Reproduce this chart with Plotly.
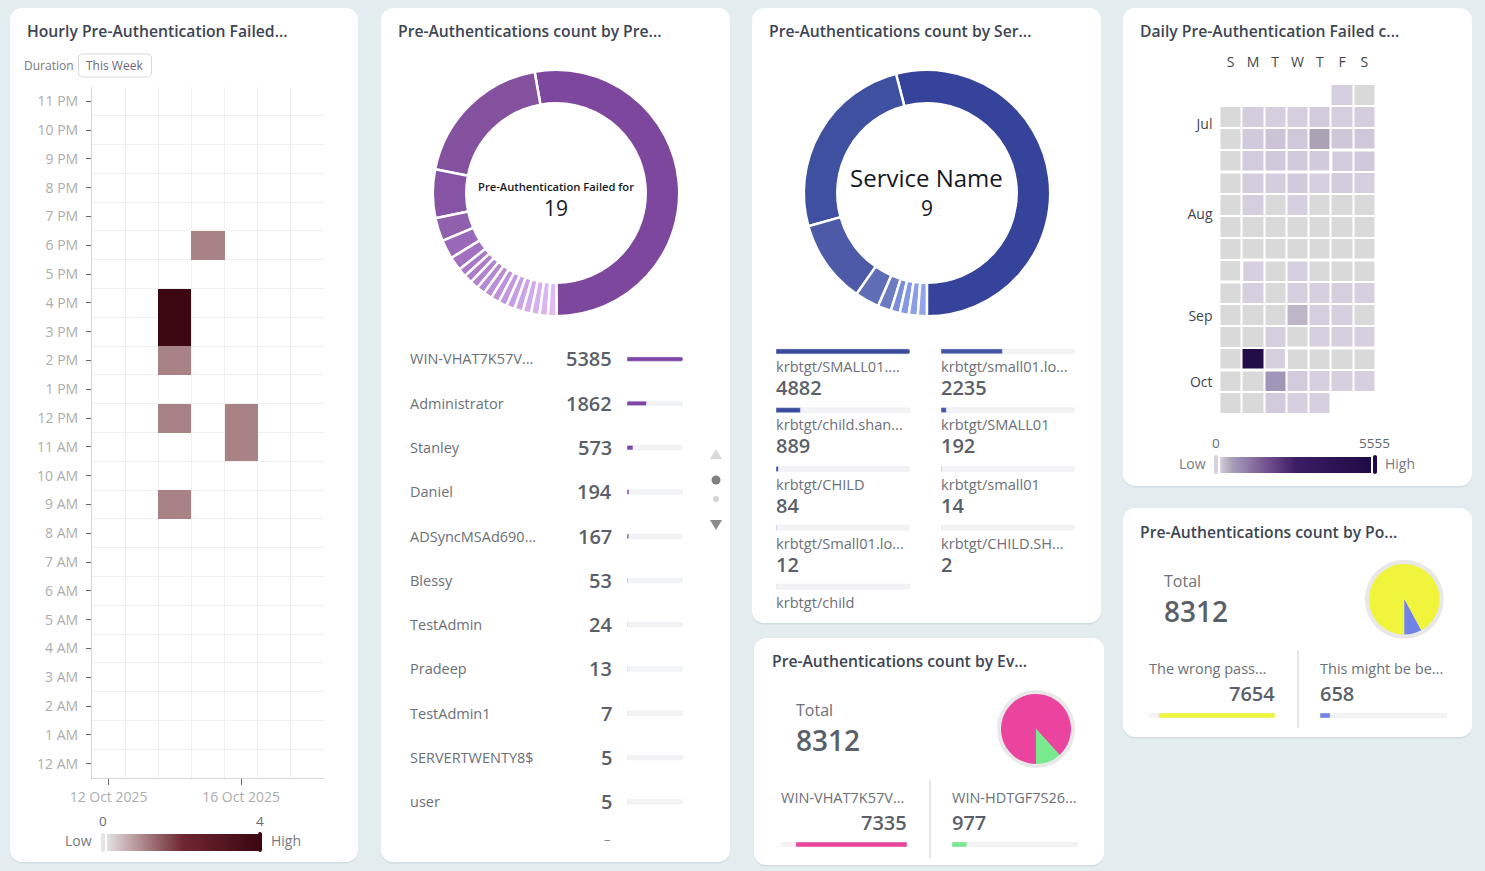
import plotly.graph_objects as go

W, H = 1485, 871
FONT = "Open Sans"

# hourly heatmap
hour_labels = ["12 AM", "1 AM", "2 AM", "3 AM", "4 AM", "5 AM", "6 AM", "7 AM", "8 AM", "9 AM", "10 AM", "11 AM",
               "12 PM", "1 PM", "2 PM", "3 PM", "4 PM", "5 PM", "6 PM", "7 PM", "8 PM", "9 PM", "10 PM", "11 PM"]
day_labels = ["12 Oct 2025", "13 Oct 2025", "14 Oct 2025", "15 Oct 2025", "16 Oct 2025", "17 Oct 2025", "18 Oct 2025"]
cell_days = [2, 2, 2, 2, 2, 3, 4, 4]
cell_hours = [9, 12, 14, 15, 16, 18, 11, 12]
cell_counts = [1, 1, 1, 4, 4, 1, 1, 1]

# user list and donut
user_names = ["WIN-VHAT7K57V...", "Administrator", "Stanley", "Daniel", "ADSyncMSAd690...", "Blessy",
              "TestAdmin", "Pradeep", "TestAdmin1", "SERVERTWENTY8$", "user"]
user_counts = [5385, 1862, 573, 194, 167, 53, 24, 13, 7, 5, 5]
user_slices = [190, 69, 23, 11, 9, 6.5, 4, 4, 4, 4, 4, 4, 4, 4, 4, 4, 4, 4, 4]
user_colors = ["#7e479e", "#84519f", "#8753a5", "#9160ad", "#9a68b8", "#a171c0", "#a877c6", "#ad7dca", "#b283ce",
               "#b688d2", "#ba8dd6", "#be92da", "#c298de", "#c69ee2", "#cba4e6", "#d0aaea", "#d5b0ee", "#d9b6f0",
               "#ddbcf3"]

# service list and donut
service_left = ["krbtgt/SMALL01....", "krbtgt/child.shan...", "krbtgt/CHILD", "krbtgt/Small01.lo...", "krbtgt/child"]
service_left_counts = [4882, 889, 84, 12, 2]
service_right = ["krbtgt/small01.lo...", "krbtgt/SMALL01", "krbtgt/small01", "krbtgt/CHILD.SH..."]
service_right_counts = [2235, 192, 14, 2]
service_slices = [194.6, 91, 39.5, 11.5, 6.3, 4.25, 4.25, 4.25, 4.25]
service_colors = ["#35449a", "#3f50a0", "#4d5aa8", "#5e6db5", "#6b7cc0", "#7b8cdc", "#8598e5", "#8c9eea", "#92a5ec"]

# daily calendar, one row per week, S M T W T F S
calendar_days = ["S", "M", "T", "W", "T", "F", "S"]
calendar_months = ["Jul", "Aug", "Sep", "Oct"]
calendar_rows = [
    [None, None, None, None, None, 30, 0],
    [0, 35, 30, 30, 40, 30, 35],
    [0, 45, 90, 60, 420, 70, 60],
    [0, 40, 50, 45, 45, 40, 50],
    [0, 35, 35, 45, 30, 40, 30],
    [0, 30, 0, 30, 0, 0, 0],
    [0, 0, 0, 0, 0, 0, 0],
    [0, 0, 0, 0, 0, 0, 0],
    [0, 25, 2, 25, 2, 0, 0],
    [0, 25, 2, 25, 25, 30, 25],
    [2, 2, 2, 230, 30, 25, 3],
    [0, 0, 25, 1, 30, 25, 25],
    [0, 5300, 25, 0, 0, 0, 0],
    [0, 0, 600, 40, 25, 25, 25],
    [0, 0, 40, 25, 25, None, None],
]
# week row and weekday of each 1st, for the white month dividers
month_first_rows = [3, 8, 12]
month_first_cols = [5, 1, 3]

# small pies
total_count = 8312
event_names = ["WIN-VHAT7K57V...", "WIN-HDTGF7S26..."]
event_counts = [7335, 977]
event_colors = ["#ea449f", "#76ea8c"]
policy_names = ["The wrong pass...", "This might be be..."]
policy_counts = [7654, 658]
policy_colors = ["#f0f53c", "#6f82e6"]

LABEL = "#6c7078"
VALUE = "#5a5f69"
TITLE = "#3d4554"
TRACK = "#f3f3f4"
BG = "#e3ecef"


def fx(x):
    return x / W


def fy(y):
    return 1 - y / H


def dom_x(x0, x1):
    return [fx(x0), fx(x1)]


def dom_y(y0, y1):
    return [fy(y1), fy(y0)]


def round_rect(x0, y0, x1, y1, r):
    # rounded box as an svg path, in paper units
    k = r * 0.45
    pts = [("M", x0 + r, y0), ("L", x1 - r, y0), ("C", x1 - k, y0, x1, y0 + k, x1, y0 + r),
           ("L", x1, y1 - r), ("C", x1, y1 - k, x1 - k, y1, x1 - r, y1), ("L", x0 + r, y1),
           ("C", x0 + k, y1, x0, y1 - k, x0, y1 - r), ("L", x0, y0 + r), ("C", x0, y0 + k, x0 + k, y0, x0 + r, y0)]
    out = ""
    for p in pts:
        coords = p[1:]
        out += p[0] + " ".join(f"{fx(coords[i]):.5f},{fy(coords[i + 1]):.5f}" for i in range(0, len(coords), 2)) + " "
    return out + "Z"


def box(x0, y0, x1, y1, r, fill, line=None):
    return dict(type="path", path=round_rect(x0, y0, x1, y1, r), xref="paper", yref="paper", layer="below",
                fillcolor=fill, line=dict(color=line or fill, width=1 if line else 0))


def poly(points, fill):
    path = "M" + " L".join(f"{fx(a):.5f},{fy(b):.5f}" for a, b in points) + " Z"
    return dict(type="path", path=path, xref="paper", yref="paper", layer="below", fillcolor=fill, line=dict(width=0))


def dot(cx, cy, r, fill):
    return dict(type="circle", xref="paper", yref="paper", layer="below", x0=fx(cx - r), x1=fx(cx + r),
                y0=fy(cy + r), y1=fy(cy - r), fillcolor=fill, line=dict(width=0))


def rule(x0, y0, x1, y1, color):
    return dict(type="line", xref="paper", yref="paper", layer="below", x0=fx(x0), x1=fx(x1), y0=fy(y0), y1=fy(y1),
                line=dict(color=color, width=1.5))


def text(x, y, s, size, color=LABEL, anchor="left", weight=400):
    # annotations sit about 2px inside their anchor
    nudge = {"left": -2, "right": 2, "center": 0}[anchor]
    return dict(x=fx(x + nudge), y=fy(y - 0.2), xref="paper", yref="paper", text=s, showarrow=False, xanchor=anchor,
                yanchor="middle", font=dict(family=FONT, size=size, color=color, weight=weight))


fig = go.Figure()
shapes = []
notes = []

cards = [(10, 8, 358, 862), (381, 8, 730, 862), (752, 8, 1101, 623), (1123, 8, 1472, 486),
         (754, 638, 1104, 865), (1123, 508, 1472, 737)]
for c in cards:
    shapes.append(box(c[0], c[1] + 1.5, c[2], c[3] + 1.5, 12, "#d3dde1"))
    shapes.append(box(c[0], c[1], c[2], c[3], 12, "#ffffff"))

titles = [(27, 31, "Hourly Pre-Authentication Failed..."), (398, 31, "Pre-Authentications count by Pre..."),
          (769, 31, "Pre-Authentications count by Ser..."), (1140, 31, "Daily Pre-Authentication Failed c..."),
          (772, 661, "Pre-Authentications count by Ev..."), (1140, 532, "Pre-Authentications count by Po...")]
for t in titles:
    notes.append(text(t[0], t[1], t[2], 15.7, TITLE, weight=600))

# hourly heatmap
hour_z = [[None] * len(day_labels) for _ in hour_labels]
for d, h, c in zip(cell_days, cell_hours, cell_counts):
    hour_z[h][d] = c
fig.add_trace(go.Heatmap(
    z=hour_z, x=list(range(7)), y=list(range(24)), xaxis="x", yaxis="y", zmin=0, zmax=4, hoverongaps=False,
    colorscale=[[0, "#e4e0e2"], [0.25, "#a98286"], [0.5, "#6f2733"], [1, "#3d0711"]],
    colorbar=dict(orientation="h", xref="container", yref="container", x=fx(107), xanchor="left", y=fy(851),
                  yanchor="bottom", len=151, lenmode="pixels", thickness=17, thicknessmode="pixels", xpad=0, ypad=0,
                  outlinewidth=0, showticklabels=False, ticks=""),
))
axis_grid = dict(showgrid=False, zeroline=False, minor=dict(showgrid=True, gridcolor="#f0f0f1", gridwidth=1, ticks=""))
layout_axes = dict(
    xaxis=dict(axis_grid, domain=dom_x(92, 324), range=[-0.5, 6.5], anchor="y", tickmode="array", tickvals=[0, 4],
               ticktext=[day_labels[0], day_labels[4]], ticks="outside", ticklen=6, tickcolor="#666666",
               tickfont=dict(family=FONT, size=14, color="#adadad"), ticklabelstandoff=0,
               showline=True, linecolor="#d5d5d5", mirror=False,
               minor=dict(axis_grid["minor"], tickmode="array", tickvals=[i - 0.5 for i in range(8)])),
    yaxis=dict(axis_grid, domain=dom_y(87, 778), range=[-0.5, 23.5], anchor="x", tickmode="array",
               tickvals=list(range(24)), ticktext=hour_labels, ticks="outside", ticklen=5, tickcolor="#666666",
               tickfont=dict(family=FONT, size=14, color="#adadad"), ticklabelstandoff=5,
               showline=True, linecolor="#d5d5d5",
               minor=dict(axis_grid["minor"], tickmode="array", tickvals=[i - 0.5 for i in range(25)])),
)
notes.append(text(24, 66, "Duration", 12, "#777a80"))
shapes.append(box(78.5, 54, 151.5, 77, 4, "#ffffff", "#d9d9d9"))
notes.append(text(115, 65.5, "This Week", 12, "#6e6878", "center"))
shapes.append(box(101, 833, 105, 852, 2, "#e4e4e4"))
shapes.append(box(258, 832, 262, 852, 2, "#3d0711"))
notes += [text(103, 821, "0", 13.5, "#666a70", "center"), text(260, 821, "4", 13.5, "#666a70", "center"),
          text(92, 841, "Low", 14, "#777a80", "right"), text(271, 841, "High", 14, "#777a80")]

# daily calendar
fig.add_trace(go.Heatmap(
    z=calendar_rows, xaxis="x2", yaxis="y2", zmin=0, zmax=5555, xgap=2, ygap=2, hoverongaps=False,
    colorscale=[[0, "#d9d9d9"], [0.001, "#d9d9d9"], [0.004, "#d6d0e0"], [0.01, "#cfc7da"], [0.08, "#a99fb3"],
                [0.11, "#a094b8"], [0.3, "#75558f"], [0.5, "#3c1c66"], [1, "#1f0b45"]],
    colorbar=dict(orientation="h", xref="container", yref="container", x=fx(1220), xanchor="left", y=fy(473),
                  yanchor="bottom", len=151, lenmode="pixels", thickness=16, thicknessmode="pixels", xpad=0, ypad=0,
                  outlinewidth=0, showticklabels=False, ticks=""),
))
layout_axes["xaxis2"] = dict(domain=dom_x(1219.5, 1375.5), range=[-0.5, 6.5], anchor="y2", side="top", tickmode="array",
                             tickvals=list(range(7)), ticktext=calendar_days, showgrid=False, zeroline=False,
                             ticks="", ticklabelstandoff=13, tickfont=dict(family=FONT, size=14, color="#3f4550"))
layout_axes["yaxis2"] = dict(domain=dom_y(84, 414), range=[14.5, -0.5], anchor="x2", tickmode="array",
                             tickvals=[1.32, 5.41, 10.05, 13.05], ticktext=calendar_months, showgrid=False,
                             zeroline=False, ticks="", ticklabelstandoff=6,
                             tickfont=dict(family=FONT, size=14, color="#3f4550"))
for r, c in zip(month_first_rows, month_first_cols):
    pts = [(-0.5, r + 0.5), (c - 0.5, r + 0.5), (c - 0.5, r - 0.5), (6.5, r - 0.5)]
    shapes.append(dict(type="path", xref="x2", yref="y2", line=dict(color="#ffffff", width=3),
                       path="M" + " L".join(f"{a},{b}" for a, b in pts)))
shapes.append(box(1214, 455, 1218, 474, 2, "#d8d0e0"))
shapes.append(box(1373, 455, 1377, 474, 2, "#1f0b45"))
notes += [text(1216, 443, "0", 13.5, "#666a70", "center"), text(1374, 443, "5555", 13.5, "#666a70", "center"),
          text(1206, 464, "Low", 14, "#777a80", "right"), text(1385, 464, "High", 14, "#777a80")]


def add_donut(values, colors, cx, cy, r, hole, gap, direction, rotation):
    fig.add_trace(go.Pie(values=values, sort=False, direction=direction, rotation=rotation, hole=hole,
                         domain=dict(x=dom_x(cx - r, cx + r), y=dom_y(cy - r, cy + r)),
                         marker=dict(colors=colors, line=dict(color="#ffffff", width=gap)),
                         textinfo="none", showlegend=False))


# counterclockwise pies: rotation is where the first slice ends
add_donut(user_slices, user_colors, 556, 193, 123.2, 0.728, 2.5, "counterclockwise", 350)
add_donut(service_slices, service_colors, 927, 193, 123.2, 0.728, 2.5, "counterclockwise", 345.4)
notes += [text(556, 187, "Pre-Authentication Failed for", 11.2, "#15181f", "center", 600),
          text(556, 208, str(len(user_slices)), 21, "#15181f", "center", 500),
          text(926, 178, "Service Name", 24, "#15181f", "center", 500),
          text(927, 208, str(len(service_slices)), 21, "#15181f", "center", 500)]

# small pies sit on a grey ring
shapes.append(dot(1036, 729, 39, "#e8e8e9"))
shapes.append(dot(1404.3, 599.3, 39.5, "#e8e8e9"))
add_donut(event_counts, event_colors, 1036, 729, 35, 0, 0, "clockwise", 180)
add_donut(policy_counts, policy_colors, 1404.3, 599.3, 35.3, 0, 0, "clockwise", 180)


def add_bars(n, values, color, x0, x1, y0, y1, top, width, flip=False):
    # grey track first, then the values on top, same axes
    rows = list(range(len(values)))
    ax = f"x{n}"
    ay = f"y{n}"
    fig.add_trace(go.Bar(x=[top] * len(values), y=rows, orientation="h", width=width, marker_color=TRACK,
                         xaxis=ax, yaxis=ay, showlegend=False, hoverinfo="skip"))
    fig.add_trace(go.Bar(x=values, y=rows, orientation="h", width=width, marker_color=color,
                         xaxis=ax, yaxis=ay, showlegend=False))
    layout_axes[f"xaxis{n}"] = dict(domain=dom_x(x0, x1), range=[top, 0] if flip else [0, top], anchor=ay,
                                    visible=False, fixedrange=True)
    layout_axes[f"yaxis{n}"] = dict(domain=dom_y(y0, y1), range=[len(values) - 0.5, -0.5], anchor=ax,
                                    visible=False, fixedrange=True)


# user rows
add_bars(3, user_counts, "#7f46a8", 627, 683, 337, 824, user_counts[0], 0.1)
row_h = (824 - 337) / len(user_names)
for i, (n, c) in enumerate(zip(user_names, user_counts)):
    y = 337 + row_h * (i + 0.5)
    notes.append(text(410, y, n, 14.5, LABEL))
    notes.append(text(612, y, str(c), 20, VALUE, "right", 600))
notes.append(text(607, 839, "–", 13, "#8a8a8a", "center"))
shapes.append(poly([(710, 459), (722, 459), (716, 449)], "#d9d9d9"))
shapes.append(dot(716, 480, 4.5, "#808080"))
shapes.append(dot(716, 499, 3, "#d5d5d5"))
shapes.append(poly([(710, 520), (722, 520), (716, 530)], "#8c8c8c"))

# service rows
add_bars(4, service_left_counts, "#3a4a9c", 776, 910, 322, 616, service_left_counts[0], 0.085)
add_bars(5, service_right_counts, "#4454a6", 941, 1075, 322, 557, service_left_counts[0], 0.085)
for i, (n, c) in enumerate(zip(service_left, service_left_counts)):
    y = [366, 424, 484, 543, 602][i]
    notes.append(text(776, y, n, 14.6, LABEL))
    if i < 4:
        notes.append(text(776, y + 22, str(c), 20, VALUE, weight=600))
for i, (n, c) in enumerate(zip(service_right, service_right_counts)):
    y = [366, 424, 484, 543][i]
    notes.append(text(941, y, n, 14.6, LABEL))
    notes.append(text(941, y + 22, str(c), 20, VALUE, weight=600))

# event and policy blocks
add_bars(6, event_counts[:1], event_colors[0], 781, 907, 842, 847, total_count, 1, flip=True)
add_bars(7, event_counts[1:], event_colors[1], 952, 1078, 842, 847, total_count, 1)
add_bars(8, policy_counts[:1], policy_colors[0], 1149, 1275, 713, 718, total_count, 1, flip=True)
add_bars(9, policy_counts[1:], policy_colors[1], 1320, 1447, 713, 718, total_count, 1)
shapes.append(rule(930, 780, 930, 858, "#dcdcdc"))
shapes.append(rule(1298, 650, 1298, 728, "#dcdcdc"))
notes += [text(796, 710, "Total", 16, LABEL), text(796, 740, str(total_count), 28, VALUE, weight=600),
          text(781, 798, event_names[0], 14.5, LABEL), text(907, 823, str(event_counts[0]), 20, VALUE, "right", 600),
          text(952, 798, event_names[1], 14.5, LABEL), text(952, 823, str(event_counts[1]), 20, VALUE, weight=600),
          text(1164, 581, "Total", 16, LABEL), text(1164, 611, str(total_count), 28, VALUE, weight=600),
          text(1149, 669, policy_names[0], 14.5, LABEL), text(1275, 694, str(policy_counts[0]), 20, VALUE, "right", 600),
          text(1320, 669, policy_names[1], 14.5, LABEL), text(1320, 694, str(policy_counts[1]), 20, VALUE, weight=600)]

fig.update_layout(
    width=W, height=H, margin=dict(l=0, r=0, t=0, b=0, pad=0, autoexpand=False),
    paper_bgcolor=BG, plot_bgcolor="rgba(0,0,0,0)", barmode="overlay", barcornerradius=2,
    font=dict(family=FONT), showlegend=False, shapes=shapes, annotations=notes, **layout_axes,
)
fig.write_html("out.html", config=dict(displayModeBar=False),
               post_script="document.body.style.margin='0';document.body.style.overflow='hidden';")
